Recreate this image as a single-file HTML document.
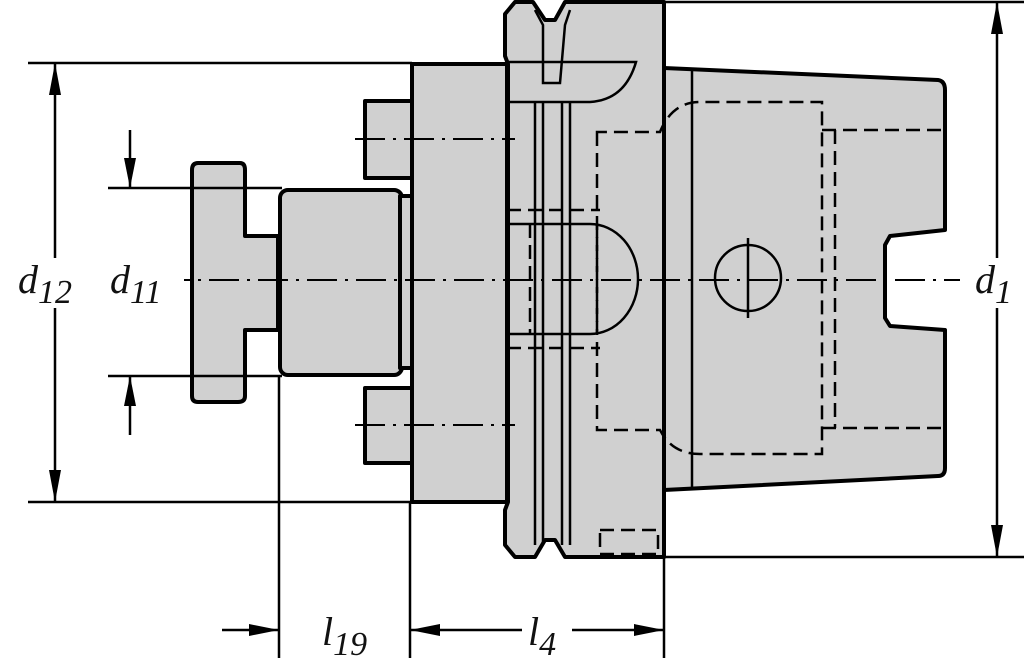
<!DOCTYPE html>
<html><head><meta charset="utf-8"><style>
html,body{margin:0;padding:0;background:#fff;width:1024px;height:669px;overflow:hidden}
text{font-family:"Liberation Serif",serif;font-style:italic;fill:#111}
</style></head><body>
<svg width="1024" height="669" viewBox="0 0 1024 669" xmlns="http://www.w3.org/2000/svg">
<g fill="#d0d0d0" stroke="#000" stroke-width="4" stroke-linejoin="round">
 <rect x="365" y="101" width="50" height="77"/>
 <rect x="365" y="388" width="50" height="75"/>
 <rect x="412" y="64" width="95" height="438"/>
 <path d="M664 68 L938 80 Q945 81 945 90 L945 230 L890 236 L885 245 L885 318 L890 326 L945 330 L945 468 Q945 476 938 476 L664 490 Z"/>
 <path d="M515 2 L533 2 L545 20 L555 20 L565 2 L664 2 L664 557 L565 557 L555 540 L545 540 L535 557 L515 557 L505 545 L505 510 L508 502 L508 64 L505 56 L505 14 Z"/>
 <path d="M198 163 L240 163 Q245 163 245 170 L245 236 L278 236 L278 330 L245 330 L245 396 Q245 402 238 402 L198 402 Q192 402 192 396 L192 170 Q192 163 198 163 Z"/>
 <rect x="280" y="190" width="122" height="185" rx="8"/>
 <rect x="400" y="196" width="12" height="172"/>
</g>
<g fill="none" stroke="#000" stroke-width="2.5">
 <line x1="535" y1="102" x2="535" y2="545"/><line x1="543" y1="102" x2="543" y2="545"/>
 <line x1="562" y1="102" x2="562" y2="545"/><line x1="570" y1="102" x2="570" y2="545"/>
 <path d="M505 62 L636 62 Q625 100 590 102 L507 102"/>
 <path d="M535 10 L543 25 L543 83 L560 83 L565 25 L570 10"/>
 <line x1="692" y1="70" x2="692" y2="487"/>
 <path d="M507 224 L590 224 A48 55 0 0 1 590 334 L507 334"/>
 <circle cx="748" cy="278" r="33"/>
 <line x1="748" y1="238" x2="748" y2="318"/>
</g>
<g fill="none" stroke="#000" stroke-width="2.5" stroke-dasharray="14,7">
 <path d="M597 132 L597 430 L660 430 Q672 454 700 454 L822 454 L822 102 L700 102 Q672 102 660 132 Z"/>
 <path d="M822 130 L945 130 M822 428 L945 428 M835 130 L835 428"/>
 <path d="M530 224 L530 334 M597 224 L597 334"/>
 <path d="M507 210 L600 210 M507 348 L600 348"/>
 <rect x="600" y="530" width="58" height="24"/>
</g>
<g stroke="#000" stroke-width="2" stroke-dasharray="30,8,3,8" fill="none">
 <line x1="160" y1="280" x2="960" y2="280"/>
 <line x1="355" y1="139" x2="515" y2="139"/>
 <line x1="355" y1="425" x2="515" y2="425"/>
</g>
<g stroke="#000" stroke-width="2.5" fill="none">
 <line x1="28" y1="63" x2="412" y2="63"/>
 <line x1="28" y1="502" x2="412" y2="502"/>
 <line x1="55" y1="63" x2="55" y2="502"/>
 <line x1="664" y1="2" x2="1024" y2="2"/>
 <line x1="664" y1="557" x2="1024" y2="557"/>
 <line x1="997" y1="2" x2="997" y2="557"/>
 <line x1="108" y1="188" x2="282" y2="188"/>
 <line x1="108" y1="376" x2="282" y2="376"/>
 <line x1="130" y1="130" x2="130" y2="188"/>
 <line x1="130" y1="376" x2="130" y2="435"/>
 <line x1="279" y1="376" x2="279" y2="658"/>
 <line x1="410" y1="502" x2="410" y2="658"/>
 <line x1="664" y1="557" x2="664" y2="658"/>
 <line x1="222" y1="630" x2="279" y2="630"/>
 <line x1="410" y1="630" x2="664" y2="630"/>
</g>
<g fill="#000">
 <path d="M55 63 L49 95 L61 95 Z"/><path d="M55 502 L49 470 L61 470 Z"/>
 <path d="M997 2 L991 34 L1003 34 Z"/><path d="M997 557 L991 525 L1003 525 Z"/>
 <path d="M130 188 L124 158 L136 158 Z"/><path d="M130 376 L124 406 L136 406 Z"/>
 <path d="M279 630 L249 624 L249 636 Z"/>
 <path d="M410 630 L440 624 L440 636 Z"/><path d="M664 630 L634 624 L634 636 Z"/>
</g>
<g fill="#fff" stroke="none">
 <rect x="15" y="258" width="82" height="50"/>
 <rect x="106" y="258" width="78" height="50"/>
 <rect x="972" y="258" width="52" height="50"/>
 <rect x="315" y="610" width="70" height="50"/>
 <rect x="522" y="610" width="50" height="50"/>
</g>
<text x="18" y="293" font-size="40">d<tspan font-size="34" dy="10">12</tspan></text>
<text x="110" y="293" font-size="40">d<tspan font-size="34" dy="10">11</tspan></text>
<text x="975" y="293" font-size="40">d<tspan font-size="34" dy="10">1</tspan></text>
<text x="322" y="645" font-size="40">l<tspan font-size="34" dy="10">19</tspan></text>
<text x="528" y="645" font-size="40">l<tspan font-size="34" dy="10">4</tspan></text>
</svg>
</body></html>
